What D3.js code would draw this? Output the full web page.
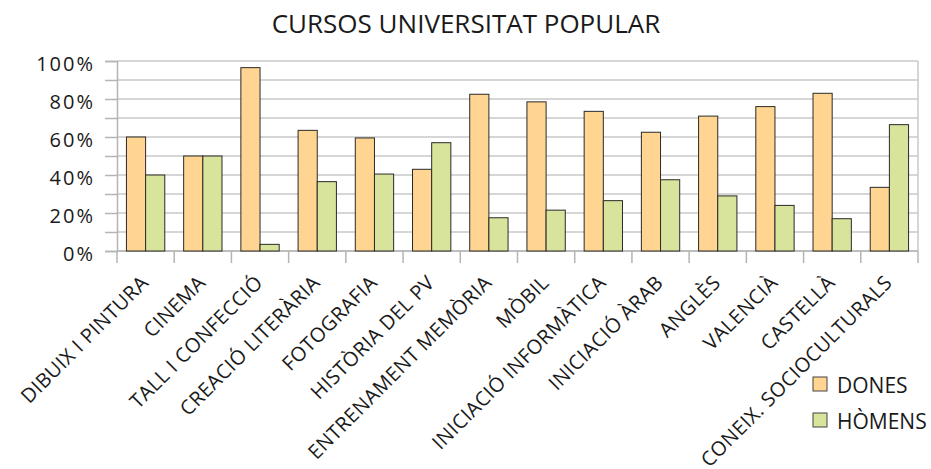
<!DOCTYPE html>
<html>
<head>
<meta charset="utf-8">
<script src="https://cdn.jsdelivr.net/npm/d3@7"></script>
<style>
  html, body { margin: 0; padding: 0; background: #fff; }
  svg { display: block; }
  text { font-family: "Open Sans", "Noto Sans", sans-serif; fill: #1a1a1a; }
</style>
</head>
<body>
<svg id="chart" width="931" height="469"></svg>
<script>
const title = "CURSOS UNIVERSITAT POPULAR";
const categories = ["DIBUIX I PINTURA", "CINEMA", "TALL I CONFECCIÓ", "CREACIÓ LITERÀRIA", "FOTOGRAFIA",
  "HISTÒRIA DEL PV", "ENTRENAMENT MEMÒRIA", "MÒBIL", "INICIACIÓ INFORMÀTICA", "INICIACIÓ ÀRAB",
  "ANGLÈS", "VALENCIÀ", "CASTELLÀ", "CONEIX. SOCIOCULTURALS"];
const seriesNames = ["DONES", "HÒMENS"];
const dones  = [0.60, 0.50, 0.965, 0.635, 0.595, 0.43, 0.825, 0.785, 0.735, 0.625, 0.71, 0.76, 0.83, 0.335];
const homens = [0.40, 0.50, 0.035, 0.365, 0.405, 0.57, 0.175, 0.215, 0.265, 0.375, 0.29, 0.24, 0.17, 0.665];
const yTicks = [0, 0.2, 0.4, 0.6, 0.8, 1.0];
const yGrid = [0, 0.1, 0.2, 0.3, 0.4, 0.5, 0.6, 0.7, 0.8, 0.9, 1.0];
const colors = ["#FFD591", "#D8E39B"];

const svg = d3.select("#chart");
const pLeft = 117, pRight = 918, pTop = 61, pBottom = 251;

const x = d3.scaleBand().domain(categories).range([pLeft, pRight]).padding(0);
const xs = d3.scaleBand().domain(seriesNames).range([x.bandwidth() * 0.165, x.bandwidth() * 0.835]).padding(0);
const y = d3.scaleLinear().domain([0, 1]).range([pBottom, pTop]);

// gridlines
svg.append("g").selectAll("line").data(yGrid).join("line")
  .attr("x1", pLeft).attr("x2", pRight)
  .attr("y1", d => y(d)).attr("y2", d => y(d))
  .attr("stroke", "#C8C8C8").attr("stroke-width", 1.5);

// right border
svg.append("line").attr("x1", pRight).attr("x2", pRight).attr("y1", pTop).attr("y2", pBottom)
  .attr("stroke", "#C8C8C8").attr("stroke-width", 1.5);

// y axis
const yAxis = d3.axisLeft(y).tickValues(yGrid).tickSize(12).tickFormat("");
const gy = svg.append("g").attr("transform", `translate(${pLeft},0)`).call(yAxis);
gy.select(".domain").attr("stroke", "#B4B4B4").attr("stroke-width", 1.5);
gy.selectAll(".tick line").attr("stroke", "#B4B4B4").attr("stroke-width", 1.5);

svg.append("g").selectAll("text").data(yTicks).join("text")
  .attr("x", 95).attr("y", d => y(d) + 10)
  .attr("text-anchor", "end")
  .style("font-size", "20px").style("letter-spacing", "2px")
  .text(d => d3.format(".0%")(d));

// x axis ticks at band boundaries
const bounds = categories.map(c => x(c)).concat([pRight]);
svg.append("g").selectAll("line").data(bounds).join("line")
  .attr("x1", d => d).attr("x2", d => d)
  .attr("y1", pBottom).attr("y2", pBottom + 12)
  .attr("stroke", "#B4B4B4").attr("stroke-width", 1.5);
svg.append("line").attr("x1", pLeft).attr("x2", pRight).attr("y1", pBottom).attr("y2", pBottom)
  .attr("stroke", "#B4B4B4").attr("stroke-width", 1.5);

// bars
const data = categories.map((c, i) => ({ c, vals: [dones[i], homens[i]] }));
const groups = svg.append("g").selectAll("g").data(data).join("g")
  .attr("transform", d => `translate(${x(d.c)},0)`);
groups.selectAll("rect").data(d => d.vals.map((v, j) => ({ v, s: seriesNames[j], j })))
  .join("rect")
  .attr("x", d => xs(d.s))
  .attr("width", xs.bandwidth())
  .attr("y", d => y(d.v))
  .attr("height", d => y(0) - y(d.v))
  .attr("fill", d => colors[d.j])
  .attr("stroke", "#2a2a2a").attr("stroke-width", 1);

// x labels
svg.append("g").selectAll("text").data(categories).join("text")
  .attr("transform", d => `translate(${x(d) + x.bandwidth() / 2 + 4},${284}) rotate(-45)`)
  .attr("text-anchor", "end")
  .style("font-size", "20px").style("letter-spacing", "0.4px")
  .text(d => d);

// title
svg.append("text").attr("x", 466).attr("y", 33).attr("text-anchor", "middle")
  .style("font-size", "26px").text(title);

// legend
const legend = svg.append("g").selectAll("g").data(seriesNames).join("g")
  .attr("transform", (d, i) => `translate(813,${377 + i * 36})`);
legend.append("rect").attr("width", 14).attr("height", 14)
  .attr("fill", (d, i) => colors[i]).attr("stroke", "#444").attr("stroke-width", 1);
legend.append("text").attr("x", 24).attr("y", 15.5)
  .style("font-size", "21px").text(d => d);
</script>
</body>
</html>
